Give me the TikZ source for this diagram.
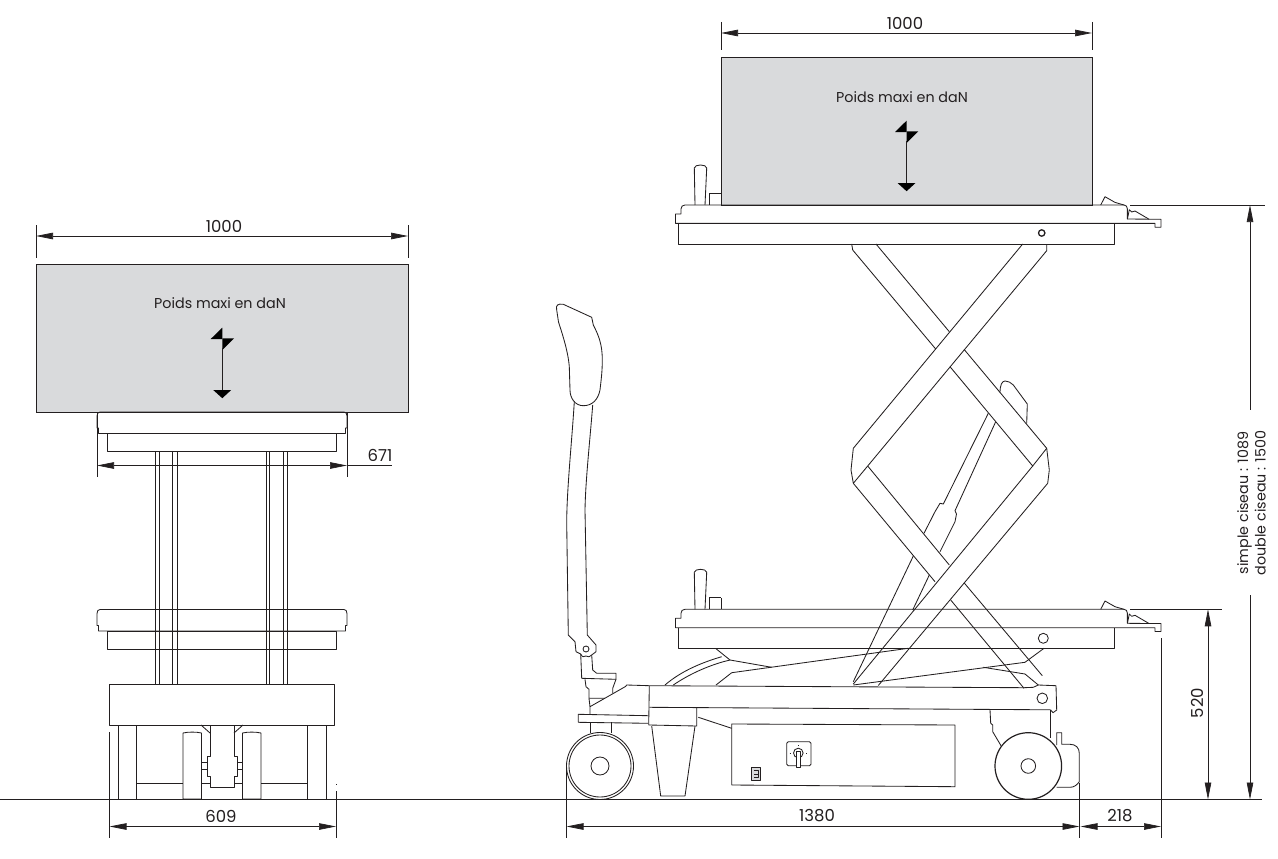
\documentclass[tikz,border=0pt]{standalone}
\usepackage{fontspec}
\setmainfont{Poppins}
\usetikzlibrary{arrows.meta}
\definecolor{loadgray}{RGB}{217,218,220}
\definecolor{ink}{RGB}{35,31,32}
\tikzset{
 x=1pt,y=-1pt,
 part/.style={draw=ink,line width=0.85pt,line join=round,fill=none},
 bold/.style={draw=ink,line width=1.2pt,line join=round},
 dimline/.style={draw=ink,line width=0.7pt},
 dimarrow/.style={draw=ink,line width=0.7pt,{Triangle[length=17pt,width=6.5pt]}-{Triangle[length=17pt,width=6.5pt]}},
 load/.style={draw=ink,line width=0.9pt,fill=loadgray},
 lbl/.style={font=\fontsize{16.5}{18}\selectfont,text=ink,inner sep=0pt},
 txt/.style={font=\fontsize{14.3}{17.5}\selectfont,text=ink,inner sep=0pt},
 tip/.style={fill=black,draw=none},
}
\begin{document}
\begin{tikzpicture}
\useasboundingbox (0,0) rectangle (1278,859);
% ground
\coordinate (g0) at (0,799.5); \coordinate (g1) at (1262,799.5);
\draw[dimline] (g0)--(g1);

%%% LEFT VIEW
\node[load,inner sep=0,anchor=north west,minimum width=372pt,minimum height=148pt] (loadL) at (36,264) {};
\foreach \dy in {0,197.5}{
\begin{scope}[yshift=-\dy pt]
\path[part] (97,416) .. controls (97,413.5) and (98,412) .. (100,412) -- (344,412) .. controls (346,412) and (347,413.5) .. (347,416) -- (347,428) -- (345.5,428) -- (345.5,433.5) -- (98.5,433.5) -- (98.5,428) -- (97,428) -- cycle;
\draw[part] (107.5,433.5) rectangle (336.5,451.5);
\end{scope}}
\foreach \x in {155.5,159.5,172.5,177,266,269.5,283,287}{\draw[part] (\x,451.5)--(\x,684.5);}
\draw[part,fill=white] (109.5,684.5) rectangle (334.5,725);
\foreach \a/\b in {118/136.5,307.5/326.5}{\draw[part] (\a,725)--(\a,799)--(\b,799)--(\b,725);}
\foreach \a/\b in {183/201.5,242.5/261}{\draw[part] (\a,799)--(\a,733) .. controls (\a+5,731.8) and (\b-5,731.8) .. (\b,733) -- (\b,799)--cycle;}
\draw[part] (210,725)--(210,756)--(207,756)--(207,776)--(210,776)--(210,787)--(234,787)--(234,776)--(237,776)--(237,756)--(234,756)--(234,725);
\draw[part] (201.5,762)--(207,762) (201.5,769)--(207,769) (237,762)--(242.5,762) (237,769)--(242.5,769);
\draw[part] (136.5,783.5)--(183,783.5) (201.5,783.5)--(210,783.5) (234,783.5)--(242.5,783.5) (261,783.5)--(307.5,783.5);
\draw[part] (201,725)--(210,733) (243,725)--(234,733);
% left dims
\coordinate (dl1a) at (97,412); \coordinate (dl1b) at (97,477);
\coordinate (dl2a) at (347,412); \coordinate (dl2b) at (347,477);
\draw[dimline] (dl1a)--(dl1b) (dl2a)--(dl2b);
\coordinate (a671) at (97,465.5); \coordinate (b671) at (347,465.5); \coordinate (c671) at (392,465.5);
\draw[dimarrow] (a671)--(b671); \draw[dimline] (b671)--(c671);
\node[lbl] (t671) at (380,455) {671};
\draw[dimline] (109.5,732)--(109.5,838) (336,791)--(336,838) (336,784)--(336,785);
\coordinate (a609) at (109.5,826.5); \coordinate (b609) at (336,826.5);
\draw[dimarrow] (a609)--(b609);
\node[lbl] (t609) at (221,816) {609};
\draw[dimline] (36,225)--(36,258) (408,225)--(408,258);
\coordinate (a1000) at (36,236); \coordinate (b1000) at (408,236);
\draw[dimarrow] (a1000)--(b1000);
\node[lbl] (t1000) at (224,226) {1000};
\node[txt] (tpL) at (220,303) {Poids maxi en daN};
\newcommand{\loadarrow}[2]{%
 \begin{scope}[shift={(#1 pt,-#2 pt)}]
 \fill[tip] (0.6,0)--(-11,11.3)--(0.6,11.3)--cycle;
 \fill[tip] (12.3,10.6)--(0.6,10.6)--(0.6,22.3)--cycle;
 \draw[dimline] (0.6,20)--(0.6,63);
 \fill[tip] (-8.5,62.3)--(9.5,62.3)--(0.6,70.5)--cycle;
 \end{scope}}
\loadarrow{221.7}{327.7}

%%% RIGHT VIEW - load
\node[load,inner sep=0,anchor=north west,minimum width=371pt,minimum height=148pt] (loadR) at (721,57) {};
\draw[dimline] (721,22)--(721,50) (1092,22)--(1092,50);
\coordinate (a1000r) at (721,33); \coordinate (b1000r) at (1092,33);
\draw[dimarrow] (a1000r)--(b1000r);
\node[lbl] (t1000r) at (905,23) {1000};
\node[txt] (tpR) at (902,97) {Poids maxi en daN};
\loadarrow{906}{120.7}

% platforms
\foreach \dy in {0,404.3}{
\begin{scope}[yshift=-\dy pt]
\path[part] (685,205) .. controls (682.5,205) and (681,206.5) .. (681,209) -- (681,214) -- (675.5,214) -- (675.5,223.4) -- (1155,223.4) -- (1155,227.2) -- (1161,227.2) -- (1161,219.2) -- (1149,219.2) -- (1135,211) -- (1131.7,212) -- (1129.3,209.7) -- (1127.4,219) -- (1127.4,209) .. controls (1127.4,206.5) and (1126,205) .. (1124,205) -- cycle;
\draw[part] (1127.4,219)--(1149,219.2);
\draw[part] (678.6,223.4)--(678.6,244)--(1114.3,244)--(1114.3,223.4);
\draw[part] (1100.7,205)--(1105,196.7)--(1115,202.4)--(1124,205);
\draw[part] (695,205) -- (694.3,168) .. controls (694.5,164) and (706.5,164) .. (706.7,168) -- (705,205);
\draw[part] (709.6,205)--(709.6,193.6)--(721,193.6);
\end{scope}}
\draw[part] (721,598)--(721,609.3);
\draw[part,line width=1.3pt] (1041.7,233) circle (3.2);
\draw[part] (1043.3,638.3) circle (5);

% scissors upper
\draw[part] (851.7,244)--(852.7,250)--(935.7,349) (950,366.7)--(1032.7,466)--(1046.7,448.3)--(964,349.3) (949.3,331.7)--(876,244);
\draw[part] (1022.7,244)--(853.3,448.3)--(851,470)--(853.3,483.3)--(867.7,466)--(1046.7,250.7)--(1046.7,244);
\draw[part] (1046.7,448.3)--(1049.3,470)--(1047.7,483.3);
% lower scissors
\draw[part] (853.3,483.3)--(935,581.7) (950.7,600)--(1024,688.3) (867.7,466)--(949.3,565) (964,582.7)--(1042.3,675.7);
\draw[part] (1032.7,466)--(853.3,684) (1047.7,483.3)--(878.3,685.5);
% ram
\draw[part] (988.3,413.3)--(943.3,504)--(940,503.3)--(935,511.7)--(924,533.3) (913.3,556)--(853.3,681.7);
\draw[part] (995.7,421.7)--(955,510.7)--(956.5,514)--(955,521.7)--(940,551.7) (929.3,575)--(912.7,610);
\draw[part] (1000,392.7) .. controls (1000,385) and (1002,381) .. (1005,381) .. controls (1008,381) and (1011,382.5) .. (1013.3,385) --(1027.3,404)--(1026.7,423.3);

% base
\draw[part] (649.3,685.7)--(1024,687.7)--(1033.3,687.3)--(1038.3,685)--(1056,685.7)--(1056.7,710)--(1053,712.7)--(1050.7,710);
\draw[part] (649.3,707.3)--(1050.7,709.8);
\draw[part] (649.3,685.7)--(648.7,725)--(696.7,726)--(696.7,708);
\draw[part] (651.7,726)--(660.7,796)--(685,796)--(695,726);
\draw[part] (698.3,717.3)--(731.7,728.3);
\draw[part] (731.7,724)--(955,725)--(955,786.7)--(731.7,785)--cycle;
% under-platform linkage
\draw[part] (853.3,685)--(1025,662.3)--(1044,648.3);
\draw[part] (983.3,667.3)--(1025,674)--(1038.3,685);
\draw[part] (716,648.7)--(730,660)--(771.7,667.3);
\draw[part] (731.7,672.7)--(908.3,648.3);
\draw[part] (716,685)--(731.7,672.7);
\draw[part] (665,685) .. controls (680,672) and (700,663) .. (721.7,656.7);
\draw[part] (673.3,685) .. controls (688,675) and (705,667) .. (723.3,661.7)--(730,660);
% switch
\draw[part,rounded corners=1.5pt] (786.7,741.7) rectangle (811,765.7);
\draw[part] (798.3,753) circle (4.8);
\draw[part,fill=white] (796,751)--(796,767)--(800.6,767)--(800.6,751)--cycle;
\draw[part,line width=0.5pt] (789.5,753)--(790.5,753) (806,753)--(807,753) (798.3,745)--(798.3,746);
\draw[part,fill=loadgray] (751,767.7) rectangle (760.7,780);
\draw[part,line width=0.5pt] (753.5,770.5)--(758,770.5)--(758,777)--(753.5,777) (754,773.8)--(758,773.8);
% rear frame
\draw[part] (649.3,685.7)--(626.7,685)--(625.5,686.5)--(590,706.7)--(590,714.3);
\draw[part] (648.3,715.7)--(578.3,714.3)--(578.3,722.3)--(648.3,723.3);
\draw[part] (590,722.3)--(590,733) (611.7,722.3)--(611.7,733);
\draw[part] (600,766) circle (33.5);
\draw[part] (600,766) circle (31);
\draw[part] (600,766) circle (9);
% drive wheel
\draw[bold] (1028.3,766) circle (33.3);
\draw[part] (1028.3,766) circle (7.3);
\draw[part] (990,710)--(990.7,723.3)--(992.7,725)--(992.7,731.7)--(1001,745.7);
\draw[part] (1050.7,710)--(1050.7,738.3);
\draw[part] (1056.7,745)--(1056.7,732.7)--(1061.7,732.7)--(1061.7,744.3)--(1070,744.3) .. controls (1076,744.3) and (1079.3,748) .. (1079.3,753.3)--(1079.3,781.7) .. controls (1077,785) and (1074,787.3) .. (1070,787.3)--(1056.7,787.3);
\draw[part] (1042.3,698.3) circle (5.3);
% backrest
\draw[part] (556.7,310) .. controls (555.5,305) and (558,303.5) .. (563.3,304.3) -- (591.7,317.3) -- (593.3,325) .. controls (599,336) and (602.3,345) .. (602.3,360) .. controls (602.3,372) and (601,381) .. (600,390) .. controls (598,400) and (592,405.7) .. (583.3,405.7) .. controls (575,405.7) and (570,398) .. (570,390) -- (569.3,366.7) .. controls (568,350) and (561,330) .. (558.5,322) -- cycle;
\draw[part] (574.3,401.7) .. controls (572,440) and (566.7,490) .. (566.7,523.3)--(568.3,635)--(575,641.7)--(576,651.7)--(580.7,654)--(581.7,678.3)--(616,679.3)--(616,673.3)--(596.7,673.3)--(592.7,670)--(591.7,655)--(596,651.7)--(596,645)--(587.3,635)--(585,510) .. controls (585.5,480) and (590,440) .. (592.7,405);
\draw[part] (586,649) circle (3);
\draw[part] (580.7,654) .. controls (582,657) and (584,657.5) .. (586,656) .. controls (588,657.5) and (590,657) .. (591.7,655);
\draw[part] (585,679.3)--(586,686.7)--(589,689.3)--(589,698.3)--(605,698.3);
\draw[part] (616,679.3)--(612.7,688.3)--(612.7,693.3);
\draw[part] (589,698.3)--(590,706.7);

%%% RIGHT DIMENSIONS
\draw[dimline] (566.5,766)--(566.5,838) (1079.5,783)--(1079.5,838) (1161,638)--(1161,838);
\coordinate (a1380) at (566.5,826.5); \coordinate (b1380) at (1079.5,826.5); \coordinate (c218) at (1161,826.5);
\draw[dimarrow] (a1380)--(b1380);
\draw[dimarrow] (b1380) ++(1,0) -- (c218);
\node[lbl] (t1380) at (817,816) {1380};
\node[lbl] (t218) at (1120,816) {218};
\draw[dimline] (1130,609.3)--(1222,609.3) (1130,205)--(1265,205);
\coordinate (a520) at (1208,609.3); \coordinate (b520) at (1208,799.5);
\draw[dimarrow] (a520)--(b520);
\node[lbl,rotate=90] (t520) at (1197,703) {520};
\coordinate (a1500) at (1250,205); \coordinate (m1500a) at (1250,409.5); \coordinate (m1500b) at (1250,595); \coordinate (b1500) at (1250,799.5);
\draw[draw=ink,line width=0.7pt,{Triangle[length=17pt,width=6.5pt]}-] (a1500)--(m1500a);
\draw[draw=ink,line width=0.7pt,-{Triangle[length=17pt,width=6.5pt]}] (m1500b)--(b1500);
\node[txt,rotate=90,align=center] (t1500) at (1251.5,503) {simple ciseau : 1089\\double ciseau : 1500};
\end{tikzpicture}
\end{document}
